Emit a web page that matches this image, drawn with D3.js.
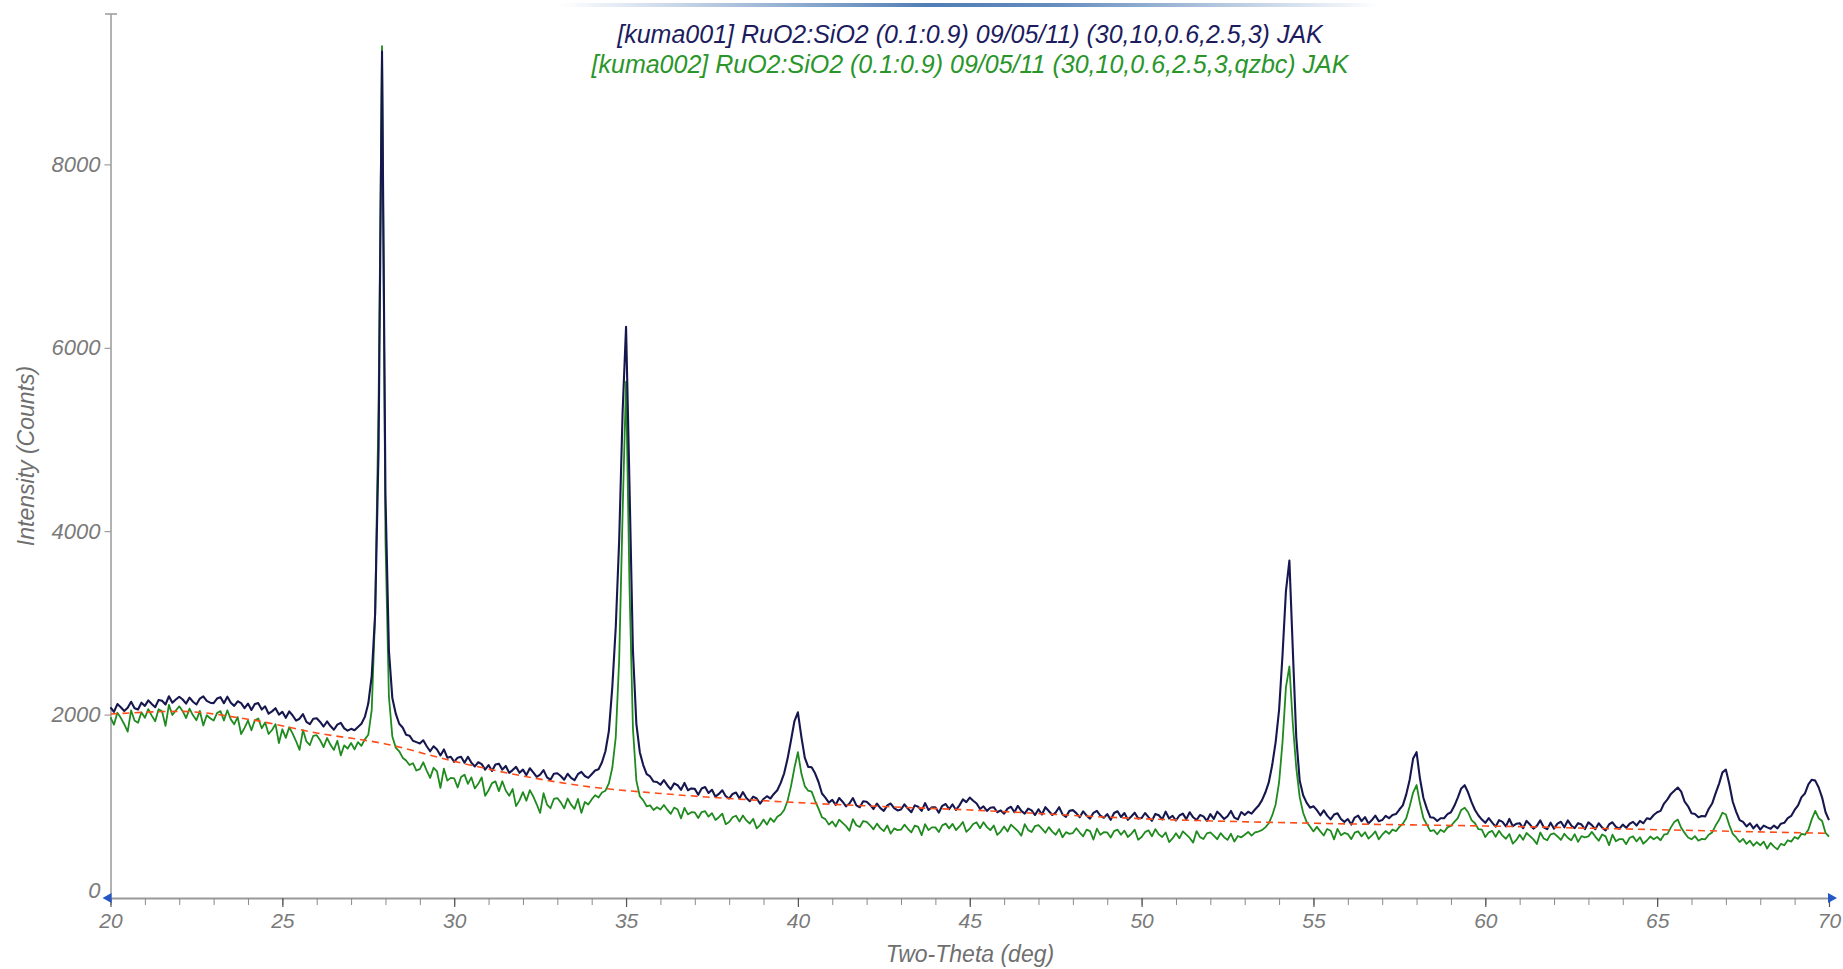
<!DOCTYPE html>
<html><head><meta charset="utf-8">
<script src="https://cdn.jsdelivr.net/npm/d3@7"></script>
<style>
body{margin:0;background:#fff}
svg{display:block}
text{font-family:"Liberation Sans",Arial,sans-serif;font-style:italic}
</style>
</head><body><svg id="chart" width="1843" height="969"></svg>
<script>
// ---- data ----
const twoThetaStart = 20;
const twoThetaStep = 0.1;

const kuma001 = [
2080,2030,2115,2080,2040,2075,2140,2070,2055,2130,
2095,2155,2115,2080,2160,2150,2110,2200,2130,2165,
2195,2165,2120,2185,2140,2110,2175,2200,2150,2130,
2125,2175,2190,2125,2195,2130,2095,2145,2125,2070,
2120,2050,2115,2125,2055,2090,2010,2035,2070,2000,
2030,1965,2035,1990,1935,1955,2005,1920,1895,1955,
1960,1920,1870,1925,1875,1835,1890,1910,1850,1825,
1845,1830,1865,1900,1975,2120,2420,3100,4900,9230,
4400,2700,2180,2010,1900,1860,1780,1770,1715,1700,
1685,1720,1655,1600,1655,1620,1555,1620,1530,1540,
1485,1530,1540,1475,1540,1475,1435,1480,1460,1400,
1450,1385,1455,1465,1400,1440,1365,1395,1430,1365,
1400,1340,1415,1370,1320,1345,1395,1315,1290,1355,
1360,1330,1290,1355,1310,1285,1350,1375,1330,1310,
1350,1390,1405,1480,1600,1820,2300,2950,3900,5300,
6230,4500,2700,1900,1590,1450,1350,1325,1270,1265,
1235,1285,1230,1185,1250,1230,1180,1255,1175,1195,
1190,1125,1195,1210,1145,1180,1105,1135,1175,1110,
1085,1135,1150,1085,1155,1090,1055,1105,1085,1030,
1080,1110,1085,1135,1175,1255,1360,1520,1720,1930,
2025,1760,1530,1430,1425,1360,1265,1140,1095,1040,
1070,1015,1090,1050,1000,1030,1090,1010,990,1055,
1050,1015,970,1030,980,950,1010,1030,980,955,
965,1020,975,935,1010,995,950,1035,960,990,
990,930,1005,1025,970,1020,960,1010,1075,1045,
1095,1060,1030,970,1000,950,985,990,935,955,
920,975,995,935,1005,950,920,975,955,905,
968,911,990,948,905,932,990,912,885,950,
958,926,881,945,898,866,929,950,897,875,
915,853,927,946,884,927,853,888,930,868,
872,927,882,842,917,902,857,942,867,897,
845,900,920,860,935,880,850,905,890,840,
915,862,942,904,861,892,949,876,857,937,
905,940,920,965,1005,1065,1150,1260,1450,1700,
2050,2650,3350,3680,2700,1750,1280,1120,1040,985,
1000,958,902,955,898,857,910,923,862,830,
861,801,877,898,838,882,813,850,898,838,
850,895,870,905,915,965,1010,1130,1290,1520,
1590,1300,1090,975,880,875,840,870,870,915,
935,1005,1095,1195,1230,1150,1045,960,900,855,
820,871,822,778,849,830,781,862,783,809,
816,761,841,801,756,786,846,771,751,821,
756,811,831,771,846,791,761,816,801,751,
825,795,750,815,768,737,802,826,776,755,
800,765,810,830,790,840,815,870,860,905,
935,950,1030,1075,1135,1170,1205,1160,1050,1000,
925,915,880,895,890,970,1030,1140,1245,1370,
1400,1240,1050,940,850,830,780,815,760,800,
745,790,770,755,790,760,810,820,870,895,
960,1010,1100,1140,1240,1290,1280,1205,1095,935,
850
];

const kuma002 = [
1970,1890,2020,1965,1895,1815,2045,1935,1910,2025,
1965,2059,1989,1928,2058,2037,1877,2106,1996,2045,
2090,2037,1963,2065,1992,1938,2040,1882,1993,1960,
1935,2017,2038,1935,2047,1948,1895,1972,1788,1855,
1935,1829,1938,1957,1851,1914,1788,1832,1896,1690,
1840,1746,1862,1793,1709,1615,1831,1707,1668,1769,
1775,1720,1645,1745,1670,1615,1715,1555,1665,1630,
1690,1620,1700,1660,1730,1780,2050,3100,5400,9290,
3900,2200,1760,1640,1600,1530,1500,1450,1470,1390,
1405,1480,1390,1310,1420,1380,1200,1410,1280,1310,
1305,1205,1320,1345,1245,1315,1195,1245,1315,1115,
1175,1253,1272,1165,1273,1172,1115,1188,1002,1065,
1155,1061,1176,1107,1022,928,1143,1019,979,1080,
1090,1043,977,1085,1018,972,1080,928,1047,1020,
1075,1120,1095,1150,1170,1250,1420,1750,2600,4200,
5630,3400,1850,1280,1110,1065,1000,1010,960,990,
965,1014,963,917,986,965,869,983,912,936,
933,873,937,947,887,926,851,881,920,805,
829,880,897,833,899,846,812,863,759,795,
855,800,870,830,885,910,960,1060,1220,1420,
1590,1360,1220,1170,1160,1060,975,880,860,800,
834,779,854,819,784,734,859,794,774,839,
831,793,749,811,762,729,791,702,759,740,
745,800,755,715,790,775,685,805,740,770,
770,719,792,811,759,808,741,780,828,722,
756,807,824,760,827,773,740,791,688,724,
780,725,800,765,730,680,805,740,720,785,
795,756,712,773,724,690,751,662,718,699,
708,761,714,673,746,729,637,756,689,717,
715,660,730,745,690,735,665,700,745,635,
665,718,738,673,751,694,665,714,610,650,
707,651,726,691,655,604,730,664,643,705,
715,681,641,707,663,634,700,616,676,662,
690,720,680,715,725,740,770,815,900,1020,
1260,1700,2300,2525,1900,1420,1100,930,830,780,
726,776,727,682,753,733,639,754,685,710,
697,642,712,727,672,717,647,682,727,640,
690,730,700,745,730,775,810,870,1000,1150,
1232,1030,870,800,730,740,695,745,720,770,
785,830,870,960,985,935,850,815,750,745,
665,716,732,668,734,680,646,697,593,630,
689,634,709,674,639,589,714,649,629,694,
704,671,633,700,657,629,696,613,675,662,
672,721,670,624,693,672,576,690,619,642,
642,587,657,672,617,662,592,627,670,640,
665,630,690,700,770,830,855,765,710,660,
640,675,625,645,640,690,715,790,850,930,
910,795,700,660,610,645,590,625,570,610,
575,615,540,600,560,530,590,575,630,615,
665,645,700,690,745,860,950,870,840,710,
670
];

const bgTheta  = [20, 22, 24, 26, 28, 30, 32, 34, 36, 38, 40, 42, 45, 50, 55, 60, 65, 70];
const bgCounts = [2006, 2035, 1950, 1800, 1680, 1490, 1330, 1210, 1140, 1085, 1040, 1005, 960, 865, 815, 785, 745, 705];

const xMajorTicks = [20, 25, 30, 35, 40, 45, 50, 55, 60, 65, 70];
const xMinorTicks = d3.range(20, 71, 1);
const yTicks = [0, 2000, 4000, 6000, 8000];
const titleLines = [
  "[kuma001] RuO2:SiO2 (0.1:0.9) 09/05/11) (30,10,0.6,2.5,3) JAK",
  "[kuma002] RuO2:SiO2 (0.1:0.9) 09/05/11 (30,10,0.6,2.5,3,qzbc) JAK"
];
const xTitle = "Two-Theta (deg)";
const yTitle = "Intensity (Counts)";

// ---- drawing ----
const svg = d3.select("#chart");
const x = d3.scaleLinear().domain([20, 70]).range([110.5, 1829]);
const y = d3.scaleLinear().domain([0, 9640]).range([898, 14]);

// header gradient bar
const defs = svg.append("defs");
const grad = defs.append("linearGradient").attr("id", "hbar");
grad.append("stop").attr("offset", "0%").attr("stop-color", "#3d6fae").attr("stop-opacity", 0);
grad.append("stop").attr("offset", "45%").attr("stop-color", "#3d6fae").attr("stop-opacity", 0.9);
grad.append("stop").attr("offset", "60%").attr("stop-color", "#3d6fae").attr("stop-opacity", 0.8);
grad.append("stop").attr("offset", "100%").attr("stop-color", "#3d6fae").attr("stop-opacity", 0);
svg.append("rect").attr("x", 560).attr("y", 3).attr("width", 820).attr("height", 4).attr("fill", "url(#hbar)");

// axes
const axisColor = "#999";
const gxMinor = svg.append("g").attr("transform", "translate(0,898)")
  .call(d3.axisBottom(x).tickValues(xMinorTicks).tickSize(7).tickSizeOuter(0).tickFormat(""));
gxMinor.select(".domain").attr("stroke", axisColor).attr("stroke-width", 2);
gxMinor.selectAll(".tick line").attr("stroke", "#8a8a8a");

const gxMajor = svg.append("g").attr("transform", "translate(0,898)")
  .call(d3.axisBottom(x).tickValues(xMajorTicks).tickSize(9).tickPadding(6).tickSizeOuter(0).tickFormat(d3.format("d")));
gxMajor.select(".domain").remove();
gxMajor.selectAll(".tick line").attr("stroke", "#555").attr("stroke-width", 1.2);
gxMajor.selectAll(".tick text").attr("fill", "#7a7a7a").attr("font-size", 21)
  .style("font-family", '"Liberation Sans",Arial,sans-serif').style("font-style", "italic");

const gy = svg.append("g").attr("transform", "translate(110.5,0)")
  .call(d3.axisLeft(y).tickValues(yTicks).tickSize(6).tickPadding(4).tickSizeOuter(0).tickFormat(d3.format("d")));
gy.select(".domain").attr("stroke", axisColor).attr("stroke-width", 1.5);
gy.selectAll(".tick line").attr("stroke", "#8a8a8a");
gy.selectAll(".tick text").attr("fill", "#7a7a7a").attr("font-size", 22)
  .style("font-family", '"Liberation Sans",Arial,sans-serif').style("font-style", "italic")
  .attr("y", d => d === 0 ? -8 : 0);
// top cap of y axis
svg.append("line").attr("x1", 105).attr("x2", 117).attr("y1", y(9640)).attr("y2", y(9640))
  .attr("stroke", axisColor).attr("stroke-width", 1.5);

// axis arrows
svg.append("path").attr("d", d3.line()([[x(20) + 1, 893], [x(20) - 8, 898], [x(20) + 1, 903]]))
  .attr("fill", "#2457c5");
svg.append("path").attr("d", d3.line()([[x(70) - 1, 893], [x(70) + 8, 898], [x(70) - 1, 903]]))
  .attr("fill", "#2457c5");

// series
const line = d3.line()
  .x((d, i) => x(twoThetaStart + i * twoThetaStep))
  .y(d => y(d));

svg.append("path").datum(kuma002).attr("d", line)
  .attr("fill", "none").attr("stroke", "#1f8b1f").attr("stroke-width", 1.8).attr("stroke-linejoin", "round");
svg.append("path").datum(kuma001).attr("d", line)
  .attr("fill", "none").attr("stroke", "#17174f").attr("stroke-width", 2.1).attr("stroke-linejoin", "round");

const bgLine = d3.line().x((d, i) => x(bgTheta[i])).y(d => y(d)).curve(d3.curveMonotoneX);
svg.append("path").datum(bgCounts).attr("d", bgLine)
  .attr("fill", "none").attr("stroke", "#ff4d1a").attr("stroke-width", 1.6).attr("stroke-dasharray", "7,5");

// titles
svg.append("text").attr("x", 970).attr("y", 43).attr("text-anchor", "middle")
  .attr("font-size", 25).attr("fill", "#1c1c5e").text(titleLines[0]);
svg.append("text").attr("x", 970).attr("y", 73).attr("text-anchor", "middle")
  .attr("font-size", 25).attr("fill", "#2a962a").text(titleLines[1]);

// axis titles
svg.append("text").attr("x", 970).attr("y", 962).attr("text-anchor", "middle")
  .attr("font-size", 23).attr("fill", "#6f6f6f").text(xTitle);
svg.append("text").attr("transform", "translate(34,456) rotate(-90)").attr("text-anchor", "middle")
  .attr("font-size", 23).attr("fill", "#6f6f6f").text(yTitle);
</script>
</body></html>
